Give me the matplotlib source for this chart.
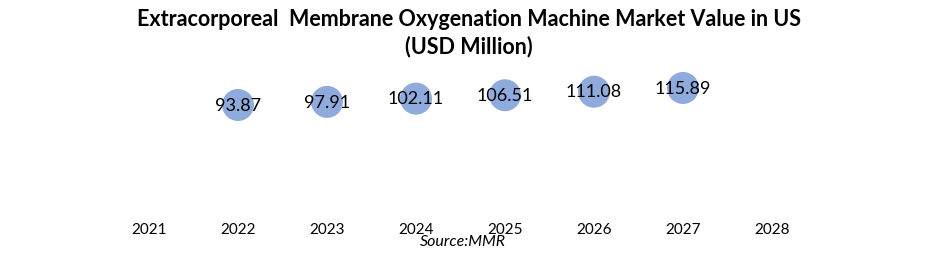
import matplotlib.pyplot as plt

# data
years = [2021, 2022, 2023, 2024, 2025, 2026, 2027, 2028]
bubble_years = [2022, 2023, 2024, 2025, 2026, 2027]
values = [93.87, 97.91, 102.11, 106.51, 111.08, 115.89]
labels = ['93.87', '97.91', '102.11', '106.51', '111.08', '115.89']

plt.rcParams['font.family'] = ['Lato', 'DejaVu Sans']

W, H = 941, 257
fig = plt.figure(figsize=(W / 100, H / 100), dpi=100)

# axes placed in pixel terms
left, right = 104.5, 816.5
top, bottom = 60, 215
ax = fig.add_axes([left / W, 1 - bottom / H, (right - left) / W, (bottom - top) / H])
ax.set_xlim(2020.5, 2028.5)
ax.set_ylim(-48.5, 152.1)

ax.scatter(bubble_years, values, s=530, color='#8FAADC', edgecolors='none', zorder=2)
for x, v, t in zip(bubble_years, values, labels):
    ax.text(x, v - 1, t, ha='center', va='center', fontsize=13, color='black', zorder=3)

ax.set_xticks(years)
ax.set_xticklabels([str(y) for y in years], fontsize=11)
ax.tick_params(axis='x', length=0, pad=6)
ax.set_yticks([])
for s in ax.spines.values():
    s.set_visible(False)

fig.text(469 / W, 1 - 20 / H, 'Extracorporeal  Membrane Oxygenation Machine Market Value in US',
         ha='center', va='center', fontsize=15.5, fontweight='bold')
fig.text(469 / W, 1 - 47 / H, '(USD Million)', ha='center', va='center',
         fontsize=15.5, fontweight='bold')
fig.text(463 / W, 1 - 242 / H, 'Source:MMR', ha='center', va='center',
         fontsize=11.5, style='italic')

fig.savefig('out.png', dpi=100, facecolor='white')
